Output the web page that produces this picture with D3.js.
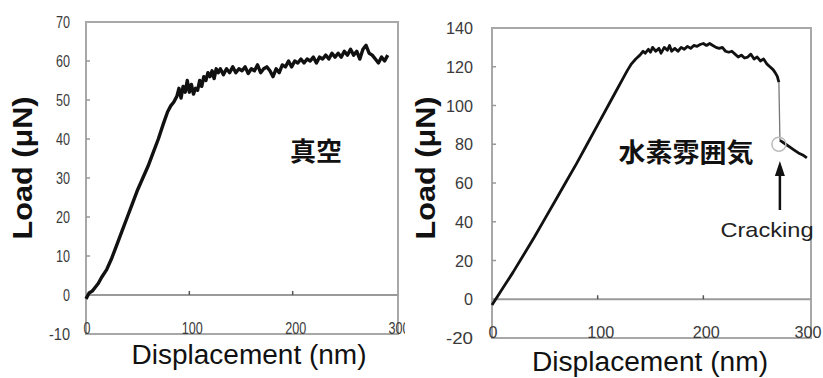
<!DOCTYPE html>
<html lang="ja">
<head>
<meta charset="UTF-8">
<title>Load - Displacement</title>
<script src="https://d3js.org/d3.v7.min.js"></script>
<style>
  body { margin: 0; background: #fff; }
  svg { display: block; font-family: "Liberation Sans", Arial, sans-serif; }
  .frame { fill: none; stroke: #a8a8a8; stroke-width: 2px; }
  .zero { stroke: #9a9a9a; stroke-width: 2px; }
  .tick-lbl { fill: #3a3a3a; font-size: 17px; }
  .curve { fill: none; stroke: #111; stroke-linejoin: round; }
  .ytitle { font-weight: bold; font-size: 28px; fill: #111; }
  .xtitle { font-size: 27px; fill: #111; }
  .cjk { font-family: "Noto Sans CJK JP", sans-serif; font-weight: bold; font-size: 26px; fill: #111; }
</style>
</head>
<body>
<svg id="chart" width="823" height="378"></svg>
<script>
// vacuum (left panel)
const vacX = [0,3,6,9,12,15,20,25,30,35,40,45,50,55,60,65,70,75,79,82,85,88,90,92,94,96,98,100,102,104,106,108,110,112,114,116,118,120,122,124,126,128,130,133,136,139,142,145,148,151,154,157,160,163,166,169,172,175,178,181,184,187,190,193,196,199,202,205,208,211,214,217,220,223,226,229,232,235,238,241,244,247,250,253,256,259,262,265,268,271,274,277,280,283,286,289,292];
const vacY = [-1,0.5,1,2,3,4.5,6.5,9.5,13,16.5,20,23.5,27,30,33,36.5,40,44,47,48.5,49.5,51,53,50.5,53.5,52,55,52,54,51.5,53,52.5,55,53.5,56,55,57,56,57.5,55.5,58,57,58,56.5,58,57,58.5,57,58,57.5,58.5,56.8,58,57.5,59,57,58,58.5,57.5,56,58,57,59,58.5,60,58.5,60,59.5,60.5,59.5,60.5,60,61,59.5,61,60.5,61.5,60.5,62,61,62,61,62.5,61.5,63,61.5,62.5,60.5,63,64,62,61.5,60.5,59.5,61,60,61.5];

// hydrogen (right panel), before and after the crack
const h2X = [0,10,20,30,40,50,60,70,80,90,100,110,118,124,128,132,136,140,143,145,148,150,152,155,158,160,163,166,168,170,173,176,179,182,185,188,191,194,197,200,203,206,209,212,215,218,221,224,227,230,233,236,239,242,245,248,251,254,257,260,263,266,268,270,271.5];
const h2Y = [-3,5.5,14,23,32,41.5,51,60.5,70,80,90,100,108,114,118,121.5,124,126,128,127,129,127.5,130,128,129.5,127,130,128.5,131,128,129.5,128,130,129,130.5,129.5,131,130.5,131.5,132,131,132,131,130,129.5,130,128,127.5,128,126.5,125,126,124.5,125,126.5,124,125,123,124,121.5,120,118.5,117,115,112];
const crackX = [272.5,274,278,282,286,290,294,298];
const crackY = [82,81.5,80,78.5,77,75.5,74.5,73];
const crackPoint = [271.5, 80];

const vacTicks = [-10,0,10,20,30,40,50,60,70];
const h2Ticks = [-20,0,20,40,60,80,100,120,140];
const xTicks = [0,100,200,300];

const svg = d3.select("#chart");

function panel(cfg) {
  const x = d3.scaleLinear().domain([0, 300]).range(cfg.xr);
  const y = d3.scaleLinear().domain(cfg.yd).range(cfg.yr);
  const g = svg.append("g");
  const clipId = "clip" + cfg.id;
  svg.append("clipPath").attr("id", clipId)
    .append("rect").attr("x", 0).attr("y", 0).attr("width", cfg.clipRight).attr("height", 378);
  g.attr("clip-path", `url(#${clipId})`);

  // frame
  g.append("rect").attr("class", "frame")
    .attr("x", x(0)).attr("y", y(cfg.yd[1]))
    .attr("width", x(300) - x(0) + 2).attr("height", y(cfg.yd[0]) - y(cfg.yd[1]));
  // zero line
  g.append("line").attr("class", "zero")
    .attr("x1", x(0)).attr("x2", x(300) + 2).attr("y1", y(0)).attr("y2", y(0));

  // y ticks inside left edge
  g.selectAll(".yt").data(cfg.ticks.slice(1, -1)).join("line")
    .attr("x1", x(0)).attr("x2", x(0) + 4)
    .attr("y1", d => y(d)).attr("y2", d => y(d))
    .attr("stroke", "#999").attr("stroke-width", 1.5);
  g.selectAll(".ylab").data(cfg.ticks).join("text")
    .attr("class", "tick-lbl")
    .attr("x", cfg.labelRight).attr("y", d => y(d)).attr("dy", "0.36em")
    .attr("text-anchor", "end")
    .attr("textLength", d => String(d).length * cfg.digitW)
    .attr("lengthAdjust", "spacingAndGlyphs")
    .text(d => d);

  // x ticks on the zero line
  g.selectAll(".xt").data([100, 200]).join("line")
    .attr("x1", d => x(d)).attr("x2", d => x(d))
    .attr("y1", y(0)).attr("y2", y(0) - 4)
    .attr("stroke", "#555").attr("stroke-width", 1.5);
  g.selectAll(".xlab").data(xTicks).join("text")
    .attr("class", "tick-lbl")
    .attr("x", d => x(d) + (d === 0 ? 1 : d === 300 ? cfg.lastShift : 3)).attr("y", y(cfg.yd[0]))
    .attr("text-anchor", "middle")
    .attr("textLength", d => String(d).length * cfg.digitW)
    .attr("lengthAdjust", "spacingAndGlyphs")
    .text(d => d);

  const line = d3.line().x(d => x(d[0])).y(d => y(d[1]));
  return { g, x, y, line };
}

// left panel
const L = panel({ id: "L", xr: [86, 396], yd: [-10, 70], yr: [334, 22], ticks: vacTicks,
  labelRight: 70, digitW: 7, clipRight: 405, lastShift: 3 });
L.g.append("path").attr("class", "curve").attr("stroke-width", 3.4)
  .attr("d", L.line(d3.zip(vacX, vacY)));

svg.append("text").attr("class", "ytitle")
  .attr("transform", "translate(32,168) rotate(-90)")
  .attr("text-anchor", "middle").attr("textLength", 143).attr("lengthAdjust", "spacingAndGlyphs")
  .text("Load (μN)");
svg.append("text").attr("class", "xtitle")
  .attr("x", 249).attr("y", 364).attr("text-anchor", "middle")
  .attr("textLength", 235).attr("lengthAdjust", "spacingAndGlyphs")
  .text("Displacement (nm)");
svg.append("text").attr("class", "cjk")
  .attr("x", 316).attr("y", 149).attr("dominant-baseline", "central").attr("text-anchor", "middle")
  .text("真空");

// right panel
const R = panel({ id: "R", xr: [492, 809], yd: [-20, 140], yr: [338, 28], ticks: h2Ticks,
  labelRight: 473, digitW: 9, clipRight: 823, lastShift: -1 });
R.g.append("path").attr("class", "curve").attr("stroke-width", 2.8)
  .attr("d", R.line(d3.zip(h2X, h2Y)));
R.g.append("line")
  .attr("x1", R.x(h2X[h2X.length - 1])).attr("y1", R.y(h2Y[h2Y.length - 1]))
  .attr("x2", R.x(crackX[0])).attr("y2", R.y(crackY[0]))
  .attr("stroke", "#777").attr("stroke-width", 1.3);
R.g.append("path").attr("class", "curve").attr("stroke-width", 2.8)
  .attr("d", R.line(d3.zip(crackX, crackY)));
R.g.append("circle")
  .attr("cx", R.x(crackPoint[0])).attr("cy", R.y(crackPoint[1])).attr("r", 7)
  .attr("fill", "none").attr("stroke", "#bbb").attr("stroke-width", 1.5);

// arrow
const ax = R.x(crackPoint[0]) + 1;
svg.append("line").attr("x1", ax).attr("x2", ax).attr("y1", 174).attr("y2", 210)
  .attr("stroke", "#111").attr("stroke-width", 2.5);
svg.append("path").attr("fill", "#111")
  .attr("d", `M${ax},161 L${ax - 5},176 L${ax + 5},176 Z`);

svg.append("text").attr("x", 767).attr("y", 237).attr("text-anchor", "middle")
  .attr("font-size", 21).attr("fill", "#222")
  .attr("textLength", 93).attr("lengthAdjust", "spacingAndGlyphs")
  .text("Cracking");

svg.append("text").attr("class", "ytitle")
  .attr("transform", "translate(435,168) rotate(-90)")
  .attr("text-anchor", "middle").attr("textLength", 143).attr("lengthAdjust", "spacingAndGlyphs")
  .text("Load (μN)");
svg.append("text").attr("class", "xtitle")
  .attr("x", 650).attr("y", 371).attr("text-anchor", "middle")
  .attr("textLength", 236).attr("lengthAdjust", "spacingAndGlyphs")
  .text("Displacement (nm)");
svg.append("text").attr("class", "cjk")
  .attr("x", 686).attr("y", 150).attr("dominant-baseline", "central").attr("text-anchor", "middle")
  .attr("textLength", 135).attr("lengthAdjust", "spacingAndGlyphs")
  .text("水素雰囲気");
</script>
</body>
</html>
